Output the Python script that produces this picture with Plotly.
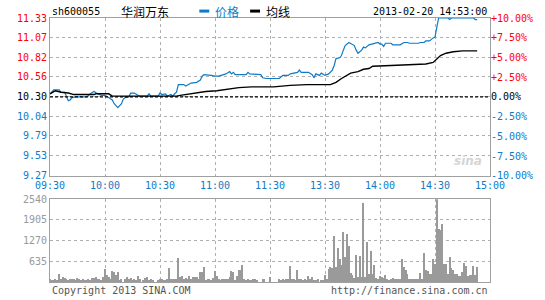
import plotly.graph_objects as go

# ---------------- data ----------------
prev_close = 10.30
price_ticks = [9.27, 9.53, 9.79, 10.04, 10.30, 10.56, 10.82, 11.07, 11.33]
pct_ticks = [-10, -7.5, -5, -2.5, 0, 2.5, 5, 7.5, 10]
pct_labels = ["-10.00%", "-7.50%", "-5.00%", "-2.50%", "0.00%",
              "+2.50%", "+5.00%", "+7.50%", "+10.00%"]
vol_ticks = [635, 1270, 1905, 2540]
time_ticks = [0, 30, 60, 90, 120, 150, 180, 210, 240]
time_labels = ["09:30", "10:00", "10:30", "11:00", "11:30",
               "13:30", "14:00", "14:30", "15:00"]

# price line (minute index from 09:30, price)
price_min = [0, 2, 5, 6, 8, 10, 11, 12, 14, 20, 22, 24, 26, 28, 30, 32, 34, 35, 37, 39,
             40, 41, 43, 44, 46, 48, 49, 53, 54, 55, 59, 60, 61, 63, 64, 66, 67, 68, 69, 70,
             73, 74, 76, 77, 80, 82, 83, 84, 88, 90, 92, 94, 96, 98, 99, 100, 101, 107, 108, 109,
             115, 116, 118, 125, 127, 130, 131, 135, 136, 137, 141, 143, 144, 145, 147, 148, 150, 152, 154, 155,
             156, 158, 159, 160, 161, 163, 164, 166, 167, 168, 170, 171, 172, 174, 179, 180, 181, 182, 183, 186,
             187, 191, 193, 195, 196, 201, 202, 204, 205, 207, 209, 210, 211, 212, 217, 218, 219, 231, 232, 233]
price_val = [10.34, 10.39, 10.39, 10.36, 10.36, 10.25, 10.26, 10.29, 10.30, 10.30, 10.34, 10.37, 10.34, 10.32, 10.32, 10.29, 10.26, 10.21, 10.16, 10.21,
             10.27, 10.29, 10.30, 10.35, 10.35, 10.32, 10.31, 10.31, 10.34, 10.31, 10.31, 10.35, 10.33, 10.34, 10.31, 10.33, 10.31, 10.34, 10.36, 10.46,
             10.46, 10.44, 10.46, 10.48, 10.49, 10.52, 10.57, 10.59, 10.58, 10.57, 10.57, 10.58, 10.60, 10.63, 10.60, 10.62, 10.59, 10.59, 10.62, 10.60,
             10.59, 10.55, 10.54, 10.54, 10.58, 10.58, 10.60, 10.62, 10.65, 10.62, 10.62, 10.59, 10.55, 10.60, 10.58, 10.61, 10.58, 10.60, 10.65, 10.71,
             10.80, 10.81, 10.84, 10.91, 10.97, 11.01, 11.00, 10.97, 10.91, 10.87, 10.91, 10.95, 10.94, 10.98, 11.01, 10.99, 10.99, 10.96, 11.00, 11.00,
             10.98, 10.98, 11.01, 11.01, 11.00, 11.00, 11.01, 11.01, 11.03, 11.03, 11.07, 11.08, 11.21, 11.33, 11.33, 11.31, 11.33, 11.33, 11.31, 11.31]

# average price line
avg_min = [0, 3, 6, 10, 13, 24, 25, 32, 34, 69, 71, 74, 80, 85, 91, 96, 103, 110, 122, 131,
           140, 153, 156, 159, 162, 164, 168, 171, 174, 176, 186, 195, 205, 209, 210, 213, 216, 220, 225, 233]
avg_val = [10.34, 10.38, 10.36, 10.35, 10.33, 10.33, 10.34, 10.34, 10.31, 10.31, 10.32, 10.33, 10.35, 10.37, 10.38, 10.40, 10.42, 10.43, 10.43, 10.45,
           10.46, 10.46, 10.49, 10.54, 10.58, 10.61, 10.63, 10.66, 10.67, 10.70, 10.71, 10.72, 10.73, 10.75, 10.77, 10.84, 10.87, 10.89, 10.90, 10.90]

# volume per minute (index 0 = 09:30)
volume = [100, 50, 50, 70, 50, 250, 100, 150, 120, 100,
          50, 80, 80, 100, 50, 130, 70, 50, 100, 50,
          50, 70, 50, 120, 120, 150, 70, 100, 50, 150,
          380, 200, 150, 100, 330, 300, 200, 300, 50, 70,
          0, 100, 150, 100, 130, 50, 70, 50, 170, 70,
          0, 50, 130, 150, 50, 100, 50, 0, 0, 50,
          70, 100, 50, 50, 70, 420, 80, 70, 100, 70,
          730, 150, 170, 70, 130, 100, 170, 100, 150, 150,
          150, 100, 300, 300, 450, 50, 100, 70, 50, 120,
          330, 170, 100, 50, 70, 70, 100, 100, 150, 330,
          300, 50, 170, 350, 370, 520, 100, 50, 70, 50,
          50, 100, 70, 50, 0, 0, 70, 70, 0, 0,
          150, 0, 0, 0, 0, 100, 50, 70, 50, 100,
          70, 480, 70, 100, 50, 370, 100, 70, 50, 100,
          50, 170, 70, 150, 50, 50, 70, 0, 30, 50,
          200, 70, 400, 450, 420, 1410, 450, 1030, 710, 520,
          1530, 760, 1480, 1110, 270, 220, 120, 810, 150, 780,
          150, 2420, 150, 1210, 250, 940, 250, 520, 120, 100,
          170, 150, 130, 200, 100, 50, 100, 130, 100, 70,
          100, 100, 710, 450, 350, 250, 100, 70, 70, 100,
          70, 100, 270, 70, 880, 370, 330, 250, 250, 710,
          560, 2540, 1610, 1580, 1760, 530, 560, 250, 760, 430,
          350, 250, 250, 170, 170, 300, 590, 470, 170, 220,
          200, 480, 220, 450]

# ---------------- styles ----------------
BLUE = "#0f7bc6"
RED = "#ff0000"
GRID = "#b0b0b0"
BORDER = "#a0a0a0"
MONO = "DejaVu Sans Mono"
CJK = "Noto Sans CJK SC"


def colored(v, txt, ref):
    c = RED if v > ref else (BLUE if v < ref else "#000000")
    return f"<span style='color:{c}'>{txt}</span>"


price_text = [colored(v, f"{v:.2f}", prev_close) for v in price_ticks]
pct_text = [colored(v, t, 0) for v, t in zip(pct_ticks, pct_labels)]
vol_minutes = list(range(len(volume)))
pct_vals = [(p / prev_close - 1) * 100 for p in price_val]

fig = go.Figure()
fig.add_trace(go.Bar(x=vol_minutes, y=volume, xaxis="x2", yaxis="y2",
                     marker=dict(color="#9a9a9a", line=dict(width=0)),
                     width=0.6, hoverinfo="skip"))
fig.add_trace(go.Scatter(x=price_min, y=price_val, mode="lines",
                         line=dict(color=BLUE, width=1.2), hoverinfo="skip"))
fig.add_trace(go.Scatter(x=avg_min, y=avg_val, mode="lines",
                         line=dict(color="#000000", width=1.4), hoverinfo="skip"))
fig.add_trace(go.Scatter(x=price_min, y=pct_vals, yaxis="y3", mode="lines",
                         line=dict(color="rgba(0,0,0,0)", width=0), hoverinfo="skip"))

# previous close reference line
fig.add_shape(type="line", xref="x", yref="y", x0=time_ticks[0], x1=time_ticks[-1],
              y0=prev_close, y1=prev_close,
              line=dict(color="#000000", width=1.3, dash="3px,2px"), layer="above")

axis_common = dict(showgrid=True, gridcolor=GRID, griddash="dot", gridwidth=1,
                   showline=True, mirror=True, linecolor=BORDER, linewidth=1,
                   zeroline=False, ticks="", fixedrange=True)

fig.update_layout(
    width=545, height=300,
    margin=dict(l=50, r=53, t=18, b=15),
    paper_bgcolor="white", plot_bgcolor="white",
    showlegend=False,
    bargap=0,
    font=dict(family=MONO, size=10, color="#000000"),
    xaxis=dict(domain=[0, 1], range=[0, 240], anchor="y",
               tickvals=time_ticks, ticktext=time_labels,
               tickfont=dict(family=MONO, size=10, color=BLUE), **axis_common),
    xaxis2=dict(domain=[0, 1], range=[0, 240], anchor="y2", matches="x",
                tickvals=time_ticks, showticklabels=False, **axis_common),
    yaxis=dict(domain=[0.4026, 1], range=[price_ticks[0], price_ticks[-1]], anchor="x",
               tickvals=price_ticks, ticktext=price_text,
               tickfont=dict(family=MONO, size=10), **axis_common),
    yaxis2=dict(domain=[0, 0.3135], range=[0, vol_ticks[-1]], anchor="x2",
                tickvals=vol_ticks, ticktext=[str(v) for v in vol_ticks],
                tickfont=dict(family=MONO, size=10, color="#999999"), **axis_common),
    yaxis3=dict(overlaying="y", side="right", anchor="x", range=[-10, 10],
                tickvals=pct_ticks, ticktext=pct_text, showgrid=False, zeroline=False,
                showline=False, ticks="", tickfont=dict(family=MONO, size=10), fixedrange=True),
)


def px(X):
    return (X - 50) / 442


def py(Y):
    return (285 - Y) / 267


ann = [
    dict(text="sh600055", x=px(50), y=py(11), xanchor="left", font=dict(family=MONO, size=10)),
    dict(text="华润万东", x=px(119), y=py(11), xanchor="left", font=dict(family=CJK, size=12)),
    dict(text="价格", x=px(214), y=py(11), xanchor="left", font=dict(family=CJK, size=12, color=BLUE)),
    dict(text="均线", x=px(265), y=py(11), xanchor="left", font=dict(family=CJK, size=12)),
    dict(text="2013-02-20 14:53:00", x=px(491), y=py(11), xanchor="right", font=dict(family=MONO, size=10)),
    dict(text="Copyright 2013 SINA.COM", x=px(50), y=py(294), xanchor="left",
         font=dict(family=MONO, size=10, color="#555555")),
    dict(text="http://finance.sina.com.cn", x=px(492), y=py(294), xanchor="right",
         font=dict(family=MONO, size=10, color="#555555")),
    dict(text="<b><i>sina</i></b>", x=px(470), y=py(163), xanchor="center",
         font=dict(family="DejaVu Sans", size=12, color="#d5d5d5")),
]
for a in ann:
    a.update(xref="paper", yref="paper", yanchor="middle", showarrow=False)
fig.update_layout(annotations=ann)

# legend swatches
fig.add_shape(type="line", xref="paper", yref="paper", x0=px(200), x1=px(210), y0=py(11), y1=py(11),
              line=dict(color=BLUE, width=3))
fig.add_shape(type="line", xref="paper", yref="paper", x0=px(251), x1=px(261), y0=py(11), y1=py(11),
              line=dict(color="#000000", width=3))

fig.write_html("out.html")
